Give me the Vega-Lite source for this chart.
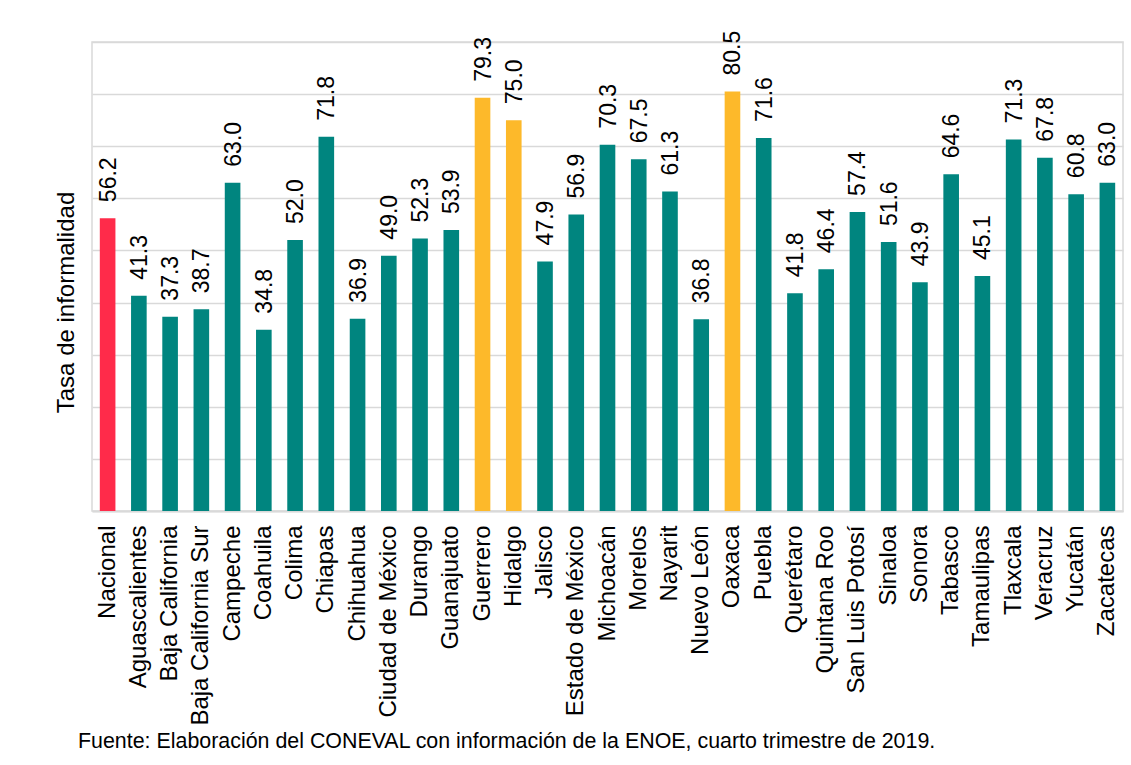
{
  "$schema": "https://vega.github.io/schema/vega-lite/v6.json",
  "width": 1031,
  "height": 469,
  "autosize": {"type": "none"},
  "padding": {"left": 92, "top": 42, "right": 8, "bottom": 254},
  "background": "white",
  "title": {
    "text": "Fuente: Elaboración del CONEVAL con información de la ENOE, cuarto trimestre de 2019.",
    "orient": "bottom",
    "anchor": "start",
    "frame": "group",
    "offset": 6,
    "dx": -14,
    "font": "Liberation Sans",
    "fontSize": 21.4,
    "fontWeight": "normal",
    "color": "#000000"
  },
  "config": {
    "view": {"stroke": "#d9d9d9", "strokeWidth": 1.5},
    "font": "Liberation Sans"
  },
  "data": {
    "values": [
      {"entidad": "Nacional", "tasa": 56.2, "grupo": "nacional"},
      {"entidad": "Aguascalientes", "tasa": 41.3, "grupo": "estado"},
      {"entidad": "Baja California", "tasa": 37.3, "grupo": "estado"},
      {"entidad": "Baja California Sur", "tasa": 38.7, "grupo": "estado"},
      {"entidad": "Campeche", "tasa": 63.0, "grupo": "estado"},
      {"entidad": "Coahuila", "tasa": 34.8, "grupo": "estado"},
      {"entidad": "Colima", "tasa": 52.0, "grupo": "estado"},
      {"entidad": "Chiapas", "tasa": 71.8, "grupo": "estado"},
      {"entidad": "Chihuahua", "tasa": 36.9, "grupo": "estado"},
      {"entidad": "Ciudad de México", "tasa": 49.0, "grupo": "estado"},
      {"entidad": "Durango", "tasa": 52.3, "grupo": "estado"},
      {"entidad": "Guanajuato", "tasa": 53.9, "grupo": "estado"},
      {"entidad": "Guerrero", "tasa": 79.3, "grupo": "alto"},
      {"entidad": "Hidalgo", "tasa": 75.0, "grupo": "alto"},
      {"entidad": "Jalisco", "tasa": 47.9, "grupo": "estado"},
      {"entidad": "Estado de México", "tasa": 56.9, "grupo": "estado"},
      {"entidad": "Michoacán", "tasa": 70.3, "grupo": "estado"},
      {"entidad": "Morelos", "tasa": 67.5, "grupo": "estado"},
      {"entidad": "Nayarit", "tasa": 61.3, "grupo": "estado"},
      {"entidad": "Nuevo León", "tasa": 36.8, "grupo": "estado"},
      {"entidad": "Oaxaca", "tasa": 80.5, "grupo": "alto"},
      {"entidad": "Puebla", "tasa": 71.6, "grupo": "estado"},
      {"entidad": "Querétaro", "tasa": 41.8, "grupo": "estado"},
      {"entidad": "Quintana Roo", "tasa": 46.4, "grupo": "estado"},
      {"entidad": "San Luis Potosí", "tasa": 57.4, "grupo": "estado"},
      {"entidad": "Sinaloa", "tasa": 51.6, "grupo": "estado"},
      {"entidad": "Sonora", "tasa": 43.9, "grupo": "estado"},
      {"entidad": "Tabasco", "tasa": 64.6, "grupo": "estado"},
      {"entidad": "Tamaulipas", "tasa": 45.1, "grupo": "estado"},
      {"entidad": "Tlaxcala", "tasa": 71.3, "grupo": "estado"},
      {"entidad": "Veracruz", "tasa": 67.8, "grupo": "estado"},
      {"entidad": "Yucatán", "tasa": 60.8, "grupo": "estado"},
      {"entidad": "Zacatecas", "tasa": 63.0, "grupo": "estado"}
    ]
  },
  "encoding": {
    "x": {
      "field": "entidad",
      "type": "nominal",
      "sort": null,
      "scale": {"paddingInner": 0.5, "paddingOuter": 0.25},
      "axis": {
        "title": null,
        "labelAngle": 270,
        "labelAlign": "right",
        "labelBaseline": "middle",
        "labelFontSize": 24,
        "labelColor": "#000000",
        "labelPadding": 14,
        "ticks": false,
        "tickSize": 0,
        "domain": true,
        "domainColor": "#d9d9d9",
        "domainWidth": 2,
        "grid": false,
        "labelOverlap": false,
        "labelLimit": 400
      }
    },
    "y": {
      "field": "tasa",
      "type": "quantitative",
      "scale": {"domain": [0, 90], "nice": false},
      "axis": {
        "title": "Tasa de informalidad",
        "titleFontSize": 24,
        "titleFontWeight": "normal",
        "titleColor": "#000000",
        "titleBaseline": "alphabetic",
        "titleAngle": 270,
        "titleX": -19,
        "titleY": 260,
        "values": [0, 10, 20, 30, 40, 50, 60, 70, 80, 90],
        "labels": false,
        "ticks": false,
        "domain": false,
        "grid": true,
        "gridColor": "#d9d9d9",
        "gridWidth": 1.5
      }
    }
  },
  "layer": [
    {
      "mark": {"type": "bar"},
      "encoding": {
        "color": {
          "field": "grupo",
          "type": "nominal",
          "scale": {"domain": ["nacional", "estado", "alto"], "range": ["#FF2B4A", "#00857F", "#FDB92A"]},
          "legend": null
        }
      }
    },
    {
      "mark": {
        "type": "text",
        "angle": 270,
        "align": "left",
        "baseline": "middle",
        "dx": 16,
        "dy": 1,
        "fontSize": 23,
        "color": "#000000"
      },
      "encoding": {
        "text": {"field": "tasa", "type": "quantitative", "format": ".1f"}
      }
    }
  ]
}
